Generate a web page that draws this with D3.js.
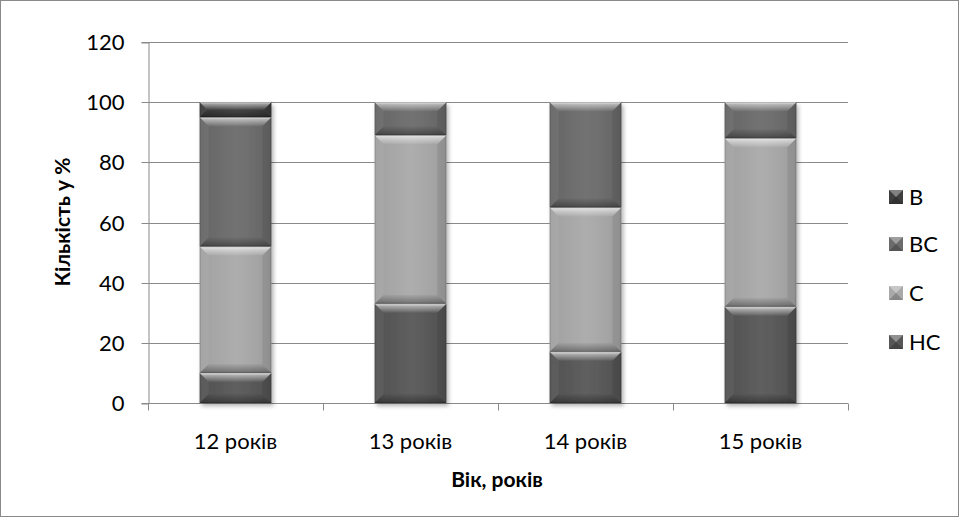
<!DOCTYPE html>
<html>
<head>
<meta charset="utf-8">
<script src="https://cdn.jsdelivr.net/npm/d3@7"></script>
<style>
  html, body { margin: 0; padding: 0; background: #fff; }
  svg { display: block; }
  text { font-family: Lato, "Open Sans", sans-serif; fill: #000; }
</style>
</head>
<body>
<svg id="chart" width="959" height="517"></svg>
<script>
// Age groups and the share (%) of each level within a group
const categories = ["12 років", "13 років", "14 років", "15 років"];
const seriesNames = ["НС", "С", "ВС", "В"];
const valuesHC = [10, 33, 17, 32];
const valuesC  = [42, 56, 48, 56];
const valuesVC = [43, 11, 35, 12];
const valuesV  = [5, 0, 0, 0];
const yTicks = [0, 20, 40, 60, 80, 100, 120];
const seriesColors = ["#565656", "#a9a9a9", "#6b6b6b", "#3e3e3e"];

const rows = categories.map((cat, i) => ({
  cat, "НС": valuesHC[i], "С": valuesC[i], "ВС": valuesVC[i], "В": valuesV[i]
}));

const svg = d3.select("#chart");
const W = 959, H = 517;
const plot = { left: 148, right: 848, top: 42, bottom: 403 };

// outer frame
svg.append("rect").attr("x", 0.5).attr("y", 0.5).attr("width", W - 1).attr("height", H - 1)
  .attr("fill", "#fff").attr("stroke", "#8a8a8a");

const defs = svg.append("defs");
const shadow = defs.append("filter").attr("id", "shadow")
  .attr("x", "-20%").attr("y", "-20%").attr("width", "140%").attr("height", "140%");
shadow.append("feDropShadow").attr("dx", 2).attr("dy", 3).attr("stdDeviation", 2.2)
  .attr("flood-color", "#000").attr("flood-opacity", 0.3);

const gTop = defs.append("linearGradient").attr("id", "bevelTop").attr("x1", 0).attr("y1", 0).attr("x2", 0).attr("y2", 1);
gTop.append("stop").attr("offset", 0).attr("stop-color", "#fff").attr("stop-opacity", 0.95);
gTop.append("stop").attr("offset", 0.25).attr("stop-color", "#fff").attr("stop-opacity", 0.5);
gTop.append("stop").attr("offset", 1).attr("stop-color", "#fff").attr("stop-opacity", 0.04);

const gBot = defs.append("linearGradient").attr("id", "bevelBot").attr("x1", 0).attr("y1", 0).attr("x2", 0).attr("y2", 1);
gBot.append("stop").attr("offset", 0).attr("stop-color", "#000").attr("stop-opacity", 0.03);
gBot.append("stop").attr("offset", 1).attr("stop-color", "#000").attr("stop-opacity", 0.35);

const gBody = defs.append("linearGradient").attr("id", "body").attr("x1", 0).attr("y1", 0).attr("x2", 1).attr("y2", 0);
gBody.append("stop").attr("offset", 0).attr("stop-color", "#000").attr("stop-opacity", 0.05);
gBody.append("stop").attr("offset", 0.5).attr("stop-color", "#fff").attr("stop-opacity", 0.05);
gBody.append("stop").attr("offset", 1).attr("stop-color", "#000").attr("stop-opacity", 0.08);

const x = d3.scaleBand().domain(categories).range([plot.left, plot.right]).paddingInner(0.59).paddingOuter(0.295);
const y = d3.scaleLinear().domain([0, 120]).range([plot.bottom, plot.top]);

// horizontal gridlines
svg.append("g").selectAll("line").data(yTicks.filter(t => t > 0)).join("line")
  .attr("x1", plot.left).attr("x2", plot.right)
  .attr("y1", d => Math.round(y(d)) + 0.5).attr("y2", d => Math.round(y(d)) + 0.5)
  .attr("stroke", "#8a8a8a").attr("stroke-width", 1);

// y axis
const yAxis = svg.append("g").attr("transform", `translate(${plot.left + 0.5},0.5)`)
  .call(d3.axisLeft(y).tickValues(yTicks).tickSize(7).tickPadding(17).tickFormat(d3.format("d")));
yAxis.select(".domain").attr("stroke", "#8a8a8a");
yAxis.selectAll(".tick line").attr("stroke", "#8a8a8a");
yAxis.selectAll(".tick text").attr("font-size", 22).attr("font-family", "Lato, 'Open Sans', sans-serif").attr("fill", "#000");
yAxis.selectAll(".tick").attr("transform", d => `translate(0,${Math.round(y(d))})`);

// x axis with ticks at category boundaries
const xBase = Math.round(y(0)) + 0.5;
svg.append("line").attr("x1", plot.left).attr("x2", plot.right).attr("y1", xBase).attr("y2", xBase)
  .attr("stroke", "#8a8a8a");
const step = x.step();
const bounds = d3.range(categories.length + 1).map(i => plot.left + i * step);
svg.append("g").selectAll("line").data(bounds).join("line")
  .attr("x1", d => Math.round(d) + 0.5).attr("x2", d => Math.round(d) + 0.5)
  .attr("y1", xBase).attr("y2", xBase + 7).attr("stroke", "#8a8a8a");
svg.append("g").selectAll("text").data(categories).join("text")
  .attr("x", d => x(d) + x.bandwidth() / 2).attr("y", 449)
  .attr("text-anchor", "middle").attr("font-size", 22).text(d => d);

// stacked bars with bevelled segments
const stack = d3.stack().keys(seriesNames)(rows);
const bevel = 9;
const barsG = svg.append("g");
rows.forEach((row, i) => {
  const col = barsG.append("g").attr("filter", "url(#shadow)");
  stack.forEach((layer, si) => {
    const d = layer[i];
    if (d[1] - d[0] <= 0) return;
    const x0 = x(row.cat), w = x.bandwidth();
    const yTop = y(d[1]), yBot = y(d[0]);
    const h = yBot - yTop;
    const b = Math.min(bevel, h / 2);
    const seg = col.append("g");
    seg.append("rect").attr("x", x0).attr("y", yTop).attr("width", w).attr("height", h)
      .attr("fill", seriesColors[si]);
    seg.append("rect").attr("x", x0).attr("y", yTop).attr("width", w).attr("height", h)
      .attr("fill", "url(#body)");
    // left and right bevels
    seg.append("path").attr("d", `M${x0},${yTop}L${x0 + b},${yTop + b}L${x0 + b},${yBot - b}L${x0},${yBot}Z`)
      .attr("fill", "#fff").attr("fill-opacity", 0.05);
    seg.append("path").attr("d", `M${x0 + w},${yTop}L${x0 + w - b},${yTop + b}L${x0 + w - b},${yBot - b}L${x0 + w},${yBot}Z`)
      .attr("fill", "#000").attr("fill-opacity", 0.08);
    // top bevel (highlight)
    seg.append("path").attr("d", `M${x0},${yTop}L${x0 + w},${yTop}L${x0 + w - b},${yTop + b}L${x0 + b},${yTop + b}Z`)
      .attr("fill", "url(#bevelTop)");
    // bottom bevel (shade)
    seg.append("path").attr("d", `M${x0},${yBot}L${x0 + w},${yBot}L${x0 + w - b},${yBot - b}L${x0 + b},${yBot - b}Z`)
      .attr("fill", "url(#bevelBot)");
    seg.append("rect").attr("x", x0 + 0.5).attr("y", yTop + 0.5).attr("width", w - 1).attr("height", h - 1)
      .attr("fill", "none").attr("stroke", "#000").attr("stroke-opacity", 0.15);
  });
});

// axis titles
svg.append("text").attr("x", 497).attr("y", 487).attr("text-anchor", "middle")
  .attr("font-size", 21).attr("font-weight", "bold").text("Вік, років");
svg.append("text").attr("transform", "translate(70,222) rotate(-90)").attr("text-anchor", "middle")
  .attr("font-size", 21).attr("font-weight", "bold").text("Кількість у %");

// legend (top entry is the last series)
const legendY = [197, 244, 293, 342];
const legend = svg.append("g");
seriesNames.slice().reverse().forEach((name, k) => {
  const si = seriesNames.length - 1 - k;
  const cy = legendY[k];
  const s = 14, lx = 889, ly = cy - s / 2;
  const g = legend.append("g");
  g.append("rect").attr("x", lx).attr("y", ly).attr("width", s).attr("height", s).attr("fill", seriesColors[si]);
  g.append("path").attr("d", `M${lx},${ly}L${lx + s},${ly}L${lx + s / 2},${ly + s / 2}Z`)
    .attr("fill", "#fff").attr("fill-opacity", 0.35);
  g.append("path").attr("d", `M${lx},${ly + s}L${lx + s},${ly + s}L${lx + s / 2},${ly + s / 2}Z`)
    .attr("fill", "#000").attr("fill-opacity", 0.2);
  g.append("text").attr("x", 909).attr("y", cy + 8).attr("font-size", 22).text(name);
});
</script>
</body>
</html>
